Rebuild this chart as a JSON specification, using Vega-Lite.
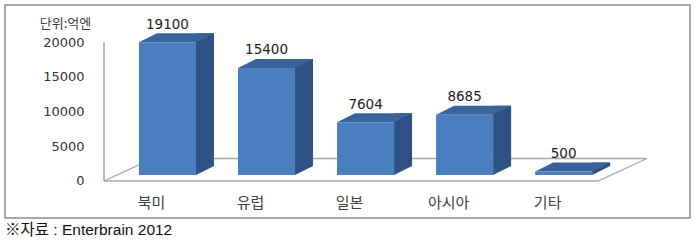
{
  "$schema": "https://vega.github.io/schema/vega-lite/v6.json",
  "autosize": {"type": "none"},
  "width": 685,
  "height": 213,
  "padding": {"left": 5, "top": 5, "right": 10, "bottom": 26},
  "background": "white",
  "config": {
    "view": {"stroke": "#8c8c8c", "strokeWidth": 1.5},
    "font": "DejaVu Sans",
    "axisY": {
      "orient": "left", "offset": -99, "domain": false, "ticks": false, "grid": false,
      "labelPadding": 20, "labelFont": "DejaVu Sans", "labelFontSize": 13,
      "labelFontWeight": "normal", "labelColor": "#333333",
      "titleAngle": 0, "titleAlign": "center", "titleBaseline": "middle",
      "titleX": -39, "titleY": 18, "titleFont": "Noto Sans CJK KR", "titleFontSize": 13,
      "titleFontWeight": "normal", "titleColor": "#404040"
    }
  },
  "title": {
    "text": "※자료 : Enterbrain 2012",
    "orient": "bottom",
    "anchor": "start",
    "frame": "group",
    "font": "Liberation Sans, Noto Sans CJK KR",
    "fontSize": 15.5,
    "fontWeight": "normal",
    "color": "#111111",
    "offset": 5
  },
  "datasets": {
    "market": [
      {"region": "북미", "value": 19100},
      {"region": "유럽", "value": 15400},
      {"region": "일본", "value": 7604},
      {"region": "아시아", "value": 8685},
      {"region": "기타", "value": 500}
    ],
    "floor": [
      {"step": 1, "u": -0.641, "v": 0},
      {"step": 2, "u": 4.346, "v": 0},
      {"step": 3, "u": 4.841, "v": 3237},
      {"step": 4, "u": -0.146, "v": 3237},
      {"step": 5, "u": -0.641, "v": 0}
    ],
    "yaxisline": [
      {"u": -0.641, "v0": 0, "v1": 20000}
    ]
  },
  "resolve": {"scale": {"x": "independent"}, "axis": {"x": "independent"}},
  "layer": [
    {
      "layer": [
        {
          "data": {"name": "floor"},
          "mark": {"type": "line", "color": "#a8a8a8", "strokeWidth": 1.3, "clip": false},
          "encoding": {
            "x": {"field": "u", "type": "quantitative", "axis": null,
                  "scale": {"domain": [-1.6406, 5.275], "nice": false, "zero": false}},
            "y": {"field": "v", "type": "quantitative",
                  "scale": {"domain": [-5324, 25324], "nice": false, "zero": false},
                  "axis": {"values": [0, 5000, 10000, 15000, 20000], "format": "d", "title": "단위:억엔"}},
            "order": {"field": "step"}
          }
        },
        {
          "data": {"name": "yaxisline"},
          "mark": {"type": "rule", "color": "#a8a8a8", "strokeWidth": 1.6},
          "encoding": {
            "x": {"field": "u", "type": "quantitative", "axis": null,
                  "scale": {"domain": [-1.6406, 5.275], "nice": false, "zero": false}},
            "y": {"field": "v0", "type": "quantitative",
                  "scale": {"domain": [-5324, 25324], "nice": false, "zero": false},
                  "axis": {"values": [0, 5000, 10000, 15000, 20000], "format": "d", "title": "단위:억엔"}},
            "y2": {"field": "v1"}
          }
        }
      ]
    },
    {
      "data": {"name": "market"},
      "encoding": {
        "x": {
          "field": "region", "type": "nominal",
          "scale": {"domain": ["", "북미", "유럽", "일본", "아시아", "기타"], "paddingInner": 0.424, "paddingOuter": 0.67, "align": 0.263, "round": false},
          "axis": {
            "orient": "bottom", "offset": -37, "domain": false, "ticks": false, "grid": false,
            "labelPadding": 14, "labelOffset": -16, "labelAngle": 0,
            "labelFont": "Noto Sans CJK KR", "labelFontSize": 15, "labelColor": "#404040",
            "title": null
          }
        },
        "y": {
          "field": "value", "type": "quantitative",
          "scale": {"domain": [-5324, 25324], "nice": false, "zero": false},
          "axis": {"values": [0, 5000, 10000, 15000, 20000], "format": "d", "title": "단위:억엔"}
        }
      },
      "layer": [
        {
          "mark": {"type": "bar", "width": 18, "xOffset": 37.5, "yOffset": -15, "color": "#2e5283"}
        },
        {
          "mark": {"type": "point", "shape": "M28.5,-6L46.5,-15L28.5,-15Z", "size": 4, "filled": true, "opacity": 1, "color": "#2e5283", "strokeWidth": 0},
          "encoding": {"y": {"datum": 0, "type": "quantitative"}}
        },
        {
          "mark": {"type": "point", "shape": "M-28.5,-6L28.5,-6L46.5,-15L-10.5,-15Z", "size": 4, "filled": true, "opacity": 1, "color": "#3a639c", "strokeWidth": 0}
        },
        {
          "mark": {"type": "bar", "yOffset": -6, "color": "#4a7ebf"}
        },
        {
          "mark": {"type": "text", "baseline": "alphabetic", "dy": -19.5, "font": "DejaVu Sans", "fontSize": 13.5, "fontWeight": "normal", "color": "#222222"},
          "encoding": {"text": {"field": "value", "type": "quantitative", "format": "d"}}
        }
      ]
    }
  ]
}
